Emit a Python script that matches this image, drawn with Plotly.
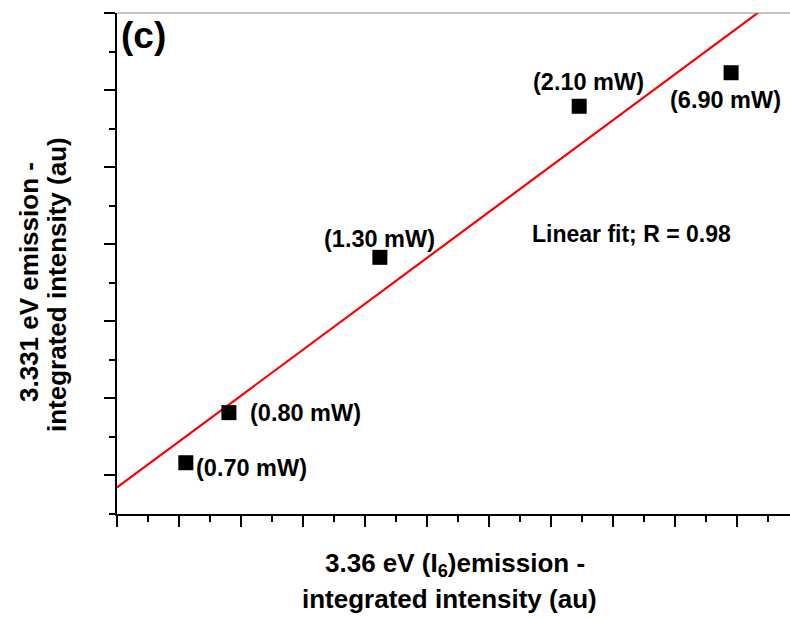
import numpy as np
import plotly.graph_objects as go

# ---- data (arbitrary units) ----
power_labels = ["(0.70 mW)", "(0.80 mW)", "(1.30 mW)", "(2.10 mW)", "(6.90 mW)"]
i6_intensity = [2.22, 3.61, 8.48, 14.91, 19.81]      # x: 3.36 eV (I6) integrated intensity
e3331_intensity = [1.33, 2.63, 6.66, 10.58, 11.45]   # y: 3.331 eV integrated intensity
fit_label = "Linear fit; R = 0.98"
panel_label = "(c)"

X_MAX = 21.71
Y_MAX = 13.0

# label offsets in pixels (dx, dy; dy positive = up)
label_offsets = [(66, -5), (77, 0), (0, 18), (9, 24), (-6, -27)]

slope, intercept = np.polyfit(i6_intensity, e3331_intensity, 1)
fit_x = np.array([0.0, X_MAX])
fit_y = slope * fit_x + intercept

FONT = "Liberation Sans, Arial, Helvetica, sans-serif"


def bold(size):
    return dict(family=FONT, size=size, color="black", weight="bold")


fig = go.Figure()
fig.add_trace(go.Scatter(x=fit_x, y=fit_y, mode="lines",
                         line=dict(color="#ff0000", width=2.2), showlegend=False,
                         hoverinfo="skip"))
fig.add_trace(go.Scatter(x=i6_intensity, y=e3331_intensity, mode="markers",
                         marker=dict(symbol="square", size=15, color="black"),
                         showlegend=False))

annotations = []
for lab, xv, yv, (dx, dy) in zip(power_labels, i6_intensity, e3331_intensity, label_offsets):
    annotations.append(dict(x=xv, y=yv, xref="x", yref="y", text=lab, showarrow=False,
                            xanchor="center", yanchor="middle",
                            xshift=dx, yshift=dy, font=bold(23.5)))


def paper_ann(px, py, text, size, angle=0):
    return dict(x=(px - 117) / 673, y=(514 - py) / 501, xref="paper", yref="paper",
                text=text, textangle=angle, showarrow=False,
                xanchor="center", yanchor="middle", font=bold(size))


annotations.append(paper_ann(631, 234, fit_label, 23))
annotations.append(paper_ann(143.5, 35, panel_label, 37))
# axis titles
annotations.append(paper_ann(29, 282, "3.331 eV emission -", 26, -90))
annotations.append(paper_ann(57, 285, "integrated intensity (au)", 26, -90))
annotations.append(paper_ann(455, 564, "3.36 eV (I<sub>6</sub>)emission -", 26))
annotations.append(paper_ann(449, 599, "integrated intensity (au)", 26))

axis_common = dict(showgrid=False, zeroline=False, showticklabels=False,
                   showline=True, linecolor="black", linewidth=2,
                   ticks="outside", ticklen=11, tickwidth=2, tickcolor="black")

fig.update_layout(
    width=790, height=619,
    margin=dict(l=117, r=0, t=13, b=105),
    paper_bgcolor="white", plot_bgcolor="white",
    xaxis=dict(range=[0, X_MAX], tick0=0, dtick=2,
               minor=dict(ticks="outside", ticklen=6, tickwidth=2, tickcolor="black",
                          tick0=0, dtick=1),
               **axis_common),
    yaxis=dict(range=[0, Y_MAX], tick0=1, dtick=2,
               minor=dict(ticks="outside", ticklen=6, tickwidth=2, tickcolor="black",
                          tick0=0, dtick=1),
               **axis_common),
    annotations=annotations,
    shapes=[dict(type="line", xref="paper", yref="paper", x0=0, x1=1, y0=1, y1=1,
                 line=dict(color="#8a8a8a", width=1))],
)

fig.write_html("out.html")
